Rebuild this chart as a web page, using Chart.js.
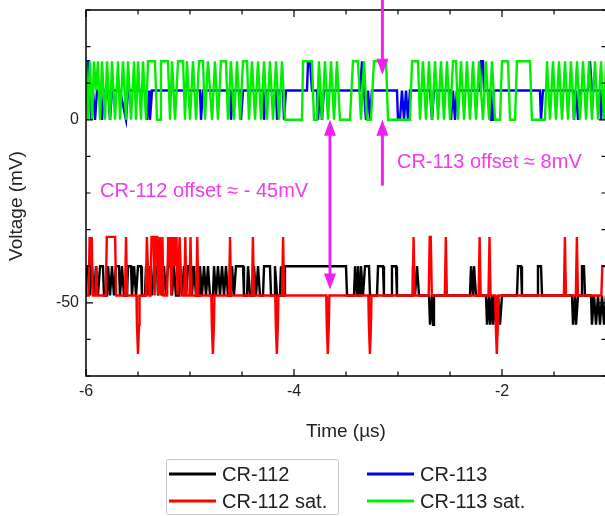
<!DOCTYPE html>
<html>
<head>
<meta charset="utf-8">
<script src="https://cdn.jsdelivr.net/npm/chart.js@4.4.1/dist/chart.umd.min.js"></script>
<style>
html, body { margin: 0; padding: 0; overflow: hidden; background: #fff; }
#wrap { width: 605px; height: 516px; overflow: hidden; }
</style>
</head>
<body>
<div id="wrap"><canvas id="offsets" width="610" height="516"></canvas></div>
<script>
// time in microseconds, voltage in mV (vertices of each trace)
var cr113satT = [-6.000,-5.981,-5.962,-5.942,-5.923,-5.904,-5.885,-5.865,-5.846,-5.817,-5.798,-5.769,-5.750,-5.721,-5.692,-5.673,-5.644,-5.615,-5.596,-5.567,-5.538,-5.519,-5.500,-5.471,-5.452,-5.423,-5.404,-5.337,-5.317,-5.288,-5.279,-5.212,-5.192,-5.173,-5.144,-5.115,-5.067,-5.048,-5.029,-5.000,-4.971,-4.942,-4.913,-4.875,-4.856,-4.827,-4.788,-4.760,-4.731,-4.702,-4.654,-4.635,-4.606,-4.577,-4.548,-4.519,-4.490,-4.452,-4.433,-4.404,-4.375,-4.346,-4.317,-4.288,-4.260,-4.231,-4.202,-4.173,-4.144,-4.115,-4.087,-3.923,-3.913,-3.827,-3.808,-3.779,-3.760,-3.731,-3.702,-3.673,-3.644,-3.615,-3.587,-3.558,-3.462,-3.433,-3.385,-3.356,-3.327,-3.298,-3.260,-3.231,-3.115,-3.096,-2.885,-2.865,-2.808,-2.788,-2.760,-2.731,-2.702,-2.673,-2.644,-2.615,-2.587,-2.558,-2.529,-2.500,-2.471,-2.442,-2.423,-2.394,-2.365,-2.337,-2.308,-2.279,-2.250,-2.221,-2.183,-2.154,-2.125,-2.096,-2.067,-2.019,-2.000,-1.942,-1.923,-1.875,-1.856,-1.731,-1.712,-1.587,-1.567,-1.538,-1.510,-1.481,-1.452,-1.423,-1.394,-1.365,-1.337,-1.308,-1.279,-1.250,-1.221,-1.192,-1.163,-1.135,-1.106,-1.077,-1.048,-1.019,-1.000];
var cr113satV = [16,0,16,0,16,8,16,0,16,0,16,0,16,0,16,0,16,0,16,0,16,0,16,0,16,0,16,16,0,0,16,16,0,16,0,16,16,0,16,0,16,0,16,16,0,16,0,16,0,16,16,0,16,0,16,0,16,16,0,16,0,16,0,16,0,16,0,16,0,16,0,0,16,16,0,0,16,0,16,0,16,0,16,0,0,16,16,0,16,0,0,16,16,0,0,16,16,0,16,0,16,0,16,0,16,0,16,0,16,16,0,16,0,16,0,16,0,16,0,16,0,16,0,0,16,16,0,0,16,16,0,0,16,0,16,0,16,0,16,0,16,0,16,0,16,0,16,0,16,0,16,0,16];

var cr113T = [-6.000,-5.990,-5.971,-5.952,-5.933,-5.913,-5.894,-5.865,-5.846,-5.827,-5.788,-5.769,-5.750,-5.673,-5.615,-5.596,-5.433,-5.413,-5.394,-5.385,-5.365,-4.904,-4.894,-4.875,-4.615,-4.606,-4.587,-4.519,-4.510,-4.490,-4.298,-4.288,-4.269,-4.173,-4.163,-4.144,-4.106,-4.096,-4.077,-3.875,-3.865,-3.846,-3.827,-3.779,-3.769,-3.750,-3.731,-3.712,-3.365,-3.346,-3.327,-3.308,-3.288,-3.269,-3.250,-3.010,-3.000,-2.981,-2.962,-2.942,-2.923,-2.904,-2.885,-2.692,-2.673,-2.654,-2.500,-2.490,-2.471,-2.452,-2.433,-2.212,-2.202,-2.183,-2.173,-2.115,-2.106,-2.087,-2.077,-1.635,-1.625,-1.606,-1.317,-1.308,-1.288,-1.269,-1.250,-1.173,-1.154,-1.135,-1.058,-1.048,-1.029,-1.000];
var cr113V = [8,16,16,0,8,0,8,8,0,8,8,0,8,8,0,8,8,0,8,0,8,8,0,8,8,0,8,8,0,8,8,0,8,8,0,8,8,0,8,8,16,16,8,8,0,8,0,8,8,16,8,0,8,0,8,8,0,0,8,0,8,0,8,8,0,8,8,0,8,0,8,8,16,16,8,8,0,0,8,8,0,8,8,0,8,0,8,8,16,8,8,0,8,8];

var cr112satT = [-6.000,-5.975,-5.965,-5.955,-5.945,-5.935,-5.910,-5.900,-5.890,-5.810,-5.800,-5.720,-5.710,-5.625,-5.615,-5.605,-5.515,-5.510,-5.500,-5.490,-5.485,-5.425,-5.415,-5.405,-5.395,-5.380,-5.370,-5.350,-5.340,-5.330,-5.315,-5.305,-5.290,-5.280,-5.265,-5.255,-5.220,-5.210,-5.200,-5.190,-5.180,-5.170,-5.160,-5.150,-5.140,-5.130,-5.120,-5.110,-5.100,-5.090,-5.080,-5.055,-5.045,-5.035,-5.005,-4.995,-4.985,-4.940,-4.930,-4.920,-4.795,-4.790,-4.780,-4.770,-4.765,-4.625,-4.615,-4.605,-4.405,-4.395,-4.385,-4.180,-4.175,-4.165,-4.155,-4.150,-4.115,-4.105,-4.095,-3.690,-3.685,-3.675,-3.665,-3.660,-3.285,-3.280,-3.270,-3.260,-3.255,-2.860,-2.850,-2.840,-2.705,-2.695,-2.685,-2.675,-2.550,-2.540,-2.530,-2.225,-2.215,-2.205,-2.130,-2.120,-2.110,-2.065,-2.060,-2.050,-2.040,-2.035,-1.405,-1.395,-1.385,-1.290,-1.280,-1.270,-1.045,-1.035,-1.000];
var cr112satV = [-48,-48,-32,-40,-32,-48,-48,-40,-48,-48,-32,-32,-48,-48,-32,-48,-48,-56,-64,-56,-48,-48,-32,-40,-48,-48,-32,-32,-48,-32,-32,-48,-32,-48,-32,-48,-48,-32,-40,-32,-48,-32,-40,-32,-40,-32,-48,-40,-32,-40,-48,-48,-32,-48,-48,-32,-48,-48,-32,-48,-48,-56,-64,-56,-48,-48,-32,-48,-48,-32,-48,-48,-56,-64,-56,-48,-48,-32,-48,-48,-56,-64,-56,-48,-48,-56,-64,-56,-48,-48,-32,-48,-48,-32,-32,-48,-48,-32,-48,-48,-32,-48,-48,-32,-48,-48,-56,-64,-56,-48,-48,-32,-48,-48,-32,-48,-48,-40,-40];

var cr112T = [-6.000,-5.990,-5.971,-5.962,-5.942,-5.923,-5.904,-5.885,-5.865,-5.837,-5.827,-5.798,-5.788,-5.769,-5.750,-5.731,-5.712,-5.683,-5.673,-5.654,-5.635,-5.606,-5.596,-5.567,-5.558,-5.538,-5.519,-5.500,-5.471,-5.462,-5.433,-5.423,-5.404,-5.385,-5.365,-5.346,-5.317,-5.308,-5.288,-5.269,-5.250,-5.231,-5.212,-5.183,-5.173,-5.154,-5.135,-5.106,-5.096,-5.077,-5.058,-5.038,-5.019,-4.990,-4.981,-4.962,-4.942,-4.913,-4.904,-4.885,-4.865,-4.846,-4.827,-4.808,-4.779,-4.769,-4.750,-4.731,-4.712,-4.692,-4.673,-4.654,-4.635,-4.606,-4.596,-4.577,-4.558,-4.490,-4.481,-4.452,-4.442,-4.423,-4.394,-4.385,-4.365,-4.346,-4.327,-4.298,-4.288,-4.231,-4.221,-4.192,-4.183,-4.163,-4.135,-4.125,-4.115,-4.096,-4.087,-3.500,-3.490,-3.423,-3.413,-3.394,-3.385,-3.365,-3.356,-3.337,-3.317,-3.279,-3.269,-3.202,-3.192,-3.144,-3.135,-3.067,-3.058,-3.019,-3.010,-2.865,-2.856,-2.837,-2.817,-2.798,-2.702,-2.692,-2.673,-2.663,-2.654,-2.308,-2.298,-2.279,-2.269,-2.250,-2.154,-2.144,-2.125,-2.115,-2.096,-2.087,-2.067,-2.058,-2.038,-2.019,-2.000,-1.856,-1.846,-1.817,-1.808,-1.663,-1.654,-1.625,-1.615,-1.327,-1.317,-1.298,-1.288,-1.269,-1.240,-1.231,-1.212,-1.202,-1.144,-1.135,-1.115,-1.096,-1.077,-1.058,-1.038,-1.019,-1.000];
var cr112V = [-48,-40,-40,-48,-40,-48,-40,-48,-40,-40,-48,-48,-40,-48,-40,-48,-40,-40,-48,-40,-48,-48,-40,-40,-48,-40,-48,-40,-40,-48,-48,-40,-48,-40,-48,-40,-40,-48,-40,-48,-40,-48,-40,-40,-48,-40,-48,-48,-40,-48,-40,-48,-40,-40,-48,-40,-48,-48,-40,-48,-40,-48,-40,-48,-48,-40,-48,-40,-48,-40,-48,-40,-48,-48,-40,-48,-40,-40,-48,-48,-40,-48,-48,-40,-48,-40,-48,-48,-40,-40,-48,-48,-40,-48,-48,-40,-48,-48,-40,-40,-48,-48,-40,-48,-40,-48,-40,-48,-40,-40,-48,-48,-40,-40,-48,-48,-40,-40,-48,-48,-40,-48,-40,-48,-48,-56,-48,-56,-48,-48,-40,-48,-40,-48,-48,-56,-48,-56,-48,-56,-48,-56,-48,-56,-48,-48,-40,-40,-48,-48,-40,-40,-48,-48,-56,-48,-56,-48,-48,-40,-40,-48,-48,-56,-48,-56,-48,-56,-48,-56,-48];

var seriesLabels = ["CR-112", "CR-112 sat.", "CR-113", "CR-113 sat."];
var xLabelAt = [-6, -4, -2];
var xLabels = ["-6", "-4", "-2"];
var yLabelAt = [0, -50];
var yLabels = ["0", "-50"];

// offset annotations (data coordinates)
var arrowX = [-3.15, -3.15, -3.654, -3.654];
var arrowFrom = [33, -18, -23, -23];
var arrowTo = [12.3, 0, 0, -46.4];
var noteText = ["CR-112 offset \u2248 - 45mV", "CR-113 offset \u2248 8mV"];
var noteX = [-5.865, -3.01];
var noteY = [-19.7, -11.7];

function pts(t, v) {
    return t.map(function (x, i) { return { x: x, y: v[i] }; });
}

var FONT = "'Liberation Sans', Arial, sans-serif";
var MAGENTA = "#f020f0";

var offsetPlugin = {
    id: "offsetPlugin",
    afterDatasetsDraw: function (chart) {
        var ctx = chart.ctx, a = chart.chartArea;
        var xs = chart.scales.x, ys = chart.scales.y;
        ctx.save();

        // frame
        ctx.strokeStyle = "#000";
        ctx.lineWidth = 1.5;
        ctx.strokeRect(a.left, a.top, a.right - a.left, a.bottom - a.top);

        // inward ticks on all four sides
        ctx.lineWidth = 1.2;
        ctx.beginPath();
        xs.ticks.forEach(function (t) {
            var px = xs.getPixelForValue(t.value);
            var len = xLabelAt.indexOf(t.value) >= 0 ? 7 : 4.5;
            ctx.moveTo(px, a.bottom); ctx.lineTo(px, a.bottom - len);
            ctx.moveTo(px, a.top); ctx.lineTo(px, a.top + len);
        });
        ys.ticks.forEach(function (t) {
            var py = ys.getPixelForValue(t.value);
            var len = yLabelAt.indexOf(t.value) >= 0 ? 7 : 4.5;
            ctx.moveTo(a.left, py); ctx.lineTo(a.left + len, py);
            ctx.moveTo(a.right, py); ctx.lineTo(a.right - len, py);
        });
        ctx.stroke();

        // arrows
        ctx.strokeStyle = MAGENTA;
        ctx.fillStyle = MAGENTA;
        ctx.lineWidth = 3;
        for (var i = 0; i < arrowX.length; i++) {
            var px = xs.getPixelForValue(arrowX[i]);
            var y0 = ys.getPixelForValue(arrowFrom[i]);
            var y1 = ys.getPixelForValue(arrowTo[i]);
            var dir = y1 > y0 ? 1 : -1;
            var head = 16;
            ctx.beginPath();
            ctx.moveTo(px, y0);
            ctx.lineTo(px, y1 - dir * (head - 2));
            ctx.stroke();
            ctx.beginPath();
            ctx.moveTo(px, y1);
            ctx.lineTo(px - 6, y1 - dir * head);
            ctx.lineTo(px + 6, y1 - dir * head);
            ctx.closePath();
            ctx.fill();
        }

        // notes
        ctx.font = "20px " + FONT;
        ctx.textBaseline = "middle";
        ctx.textAlign = "left";
        ctx.fillStyle = "#ee3cee";
        for (var j = 0; j < noteText.length; j++) {
            ctx.fillText(noteText[j], xs.getPixelForValue(noteX[j]), ys.getPixelForValue(noteY[j]));
        }
        ctx.restore();
    },
    afterDraw: function (chart) {
        var ctx = chart.ctx;
        ctx.save();

        // y axis title
        ctx.translate(17, 206);
        ctx.rotate(-Math.PI / 2);
        ctx.font = "19px " + FONT;
        ctx.fillStyle = "#222";
        ctx.textAlign = "center";
        ctx.textBaseline = "middle";
        ctx.fillText("Voltage (mV)", 0, 0);
        ctx.setTransform(1, 0, 0, 1, 0, 0);

        // legend: box only around the left column
        ctx.strokeStyle = "#c8c8c8";
        ctx.lineWidth = 1;
        ctx.beginPath();
        ctx.roundRect(166.5, 459.5, 172, 55, 2);
        ctx.stroke();

        var colX = [169, 367];
        var rowY = [474, 501];
        ctx.font = "20px " + FONT;
        ctx.textAlign = "left";
        ctx.textBaseline = "middle";
        chart.data.datasets.forEach(function (ds) {
            var k = seriesLabels.indexOf(ds.label);
            var lx = colX[Math.floor(k / 2)], ly = rowY[k % 2];
            ctx.strokeStyle = ds.borderColor;
            ctx.lineWidth = 3;
            ctx.beginPath();
            ctx.moveTo(lx, ly);
            ctx.lineTo(lx + 47, ly);
            ctx.stroke();
            ctx.fillStyle = "#222";
            ctx.fillText(ds.label, lx + 53, ly + 1);
        });
        ctx.restore();
    }
};

function trace(label, t, v, color) {
    return {
        label: label,
        data: pts(t, v),
        borderColor: color,
        borderWidth: 2.4,
        pointRadius: 0,
        fill: false,
        tension: 0,
        borderJoinStyle: "miter"
    };
}

var myChart = new Chart(document.getElementById("offsets"), {
    type: "line",
    data: {
        // first dataset is painted on top
        datasets: [
            trace(seriesLabels[3], cr113satT, cr113satV, "#00ee00"),
            trace(seriesLabels[1], cr112satT, cr112satV, "#ff0000"),
            trace(seriesLabels[2], cr113T, cr113V, "#0000ee"),
            trace(seriesLabels[0], cr112T, cr112V, "#000000")
        ]
    },
    options: {
        responsive: false,
        animation: false,
        devicePixelRatio: 1,
        layout: { padding: { left: 0, right: 4, top: 10, bottom: 73 } },
        plugins: {
            legend: { display: false },
            tooltip: { enabled: false }
        },
        scales: {
            x: {
                type: "linear",
                min: -6,
                max: -1,
                grid: { display: false, drawTicks: false },
                border: { display: false },
                ticks: {
                    stepSize: 0.5,
                    autoSkip: false,
                    maxRotation: 0,
                    padding: 6,
                    color: "#222",
                    font: { size: 16, family: FONT },
                    callback: function (value) {
                        var k = xLabelAt.indexOf(value);
                        return k >= 0 ? xLabels[k] : "";
                    }
                },
                title: {
                    display: true,
                    text: "Time (\u00b5s)",
                    color: "#222",
                    font: { size: 19, family: FONT },
                    padding: { top: 0, bottom: 0 }
                },
                afterFit: function (scale) {
                    scale.height = 67;
                    scale.paddingLeft = 0;
                    scale.paddingRight = 0;
                }
            },
            y: {
                min: -70,
                max: 30,
                grid: { display: false, drawTicks: false },
                border: { display: false },
                ticks: {
                    stepSize: 10,
                    autoSkip: false,
                    padding: 7,
                    color: "#222",
                    font: { size: 16, family: FONT },
                    callback: function (value) {
                        var k = yLabelAt.indexOf(value);
                        return k >= 0 ? yLabels[k] : "";
                    }
                },
                afterFit: function (scale) {
                    scale.width = 86;
                    scale.paddingTop = 0;
                    scale.paddingBottom = 0;
                }
            }
        }
    },
    plugins: [offsetPlugin]
});
</script>
</body>
</html>
